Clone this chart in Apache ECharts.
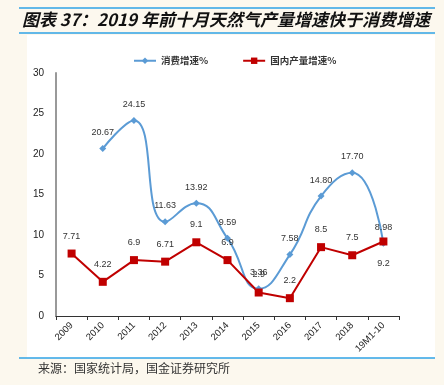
<!DOCTYPE html>
<html><head><meta charset="utf-8">
<script src="https://cdn.jsdelivr.net/npm/echarts@6/dist/echarts.min.js"></script>
<style>html,body{margin:0;padding:0;background:#fcf8ee;}#c{width:444px;height:385px;}</style>
</head><body><div id="c"></div>
<script>
const categories = ['2009','2010','2011','2012','2013','2014','2015','2016','2017','2018','19M1-10'];
const consumption = [null, 20.67, 24.15, 11.63, 13.92, 9.59, 3.36, 7.58, 14.80, 17.70, 8.98];
const consumptionLabels = ['', '20.67', '24.15', '11.63', '13.92', '9.59', '3.36', '7.58', '14.80', '17.70', '8.98'];
const production = [7.71, 4.22, 6.9, 6.71, 9.1, 6.9, 2.9, 2.2, 8.5, 7.5, 9.2];
const yTicks = [0, 5, 10, 15, 20, 25, 30];
const titleText = '图表 37：2019 年前十月天然气产量增速快于消费增速';
const sourceText = '来源：国家统计局，国金证券研究所';
const seriesNames = ['消费增速%', '国内产量增速%'];

const chart = echarts.init(document.getElementById('c'));
chart.setOption({
  backgroundColor: '#fcf8ee',
  animation: false,
  graphic: [
    {type:'rect', shape:{x:27,y:35,width:408,height:323}, style:{fill:'#ffffff'}, z:-10},
    {type:'line', shape:{x1:19,y1:8,x2:435,y2:8}, style:{stroke:'#2fa3e6',lineWidth:1.5}},
    {type:'line', shape:{x1:19,y1:33,x2:435,y2:33}, style:{stroke:'#2fa3e6',lineWidth:1.5}},
    {type:'line', shape:{x1:19,y1:358,x2:435,y2:358}, style:{stroke:'#2fa3e6',lineWidth:1.5}},
    {type:'text', left:22, top:11, style:{text:titleText, font:'italic bold 17px "Noto Sans CJK SC"', fill:'#111'}},
    {type:'text', left:38, top:362, style:{text:sourceText, font:'12px "Noto Sans CJK SC"', fill:'#333'}}
  ],
  legend: {
    top: 51, left: 128, itemGap: 34, itemWidth: 22, itemHeight: 8,
    textStyle: {fontSize: 9.5, fontWeight:'bold', color:'#333', fontFamily:'Noto Sans CJK SC'},
    data: seriesNames
  },
  grid: {left: 56, right: 45, top: 73, bottom: 69},
  xAxis: {
    type: 'category', data: categories, boundaryGap: true,
    axisLine: {lineStyle: {color:'#333', width:1}},
    axisTick: {show:true, alignWithLabel:false, length:4, lineStyle:{color:'#333'}},
    axisLabel: {rotate: 45, fontSize: 9.5, color:'#222', interval:0, margin:8, fontFamily:'Liberation Sans'}
  },
  yAxis: {
    type: 'value', min: 0, max: 30, interval: 5,
    splitLine: {show:false},
    axisLine: {show:true, lineStyle:{color:'#999', width:2}},
    axisTick: {show:false},
    axisLabel: {fontSize: 10, color:'#222', margin: 12, fontFamily:'Liberation Sans'}
  },
  series: [
    {
      name: seriesNames[0], type: 'line', data: consumption, smooth: 0.5,
      symbol: 'diamond', symbolSize: 7, connectNulls: false,
      lineStyle: {color:'#5b9bd5', width: 2}, itemStyle: {color:'#5b9bd5'},
      label: {show:true, position:'top', fontSize: 9, color:'#333', distance: 8,
        formatter: p => consumptionLabels[p.dataIndex]}
    },
    {
      name: seriesNames[1], type: 'line',
      data: production.map((v,i)=> i===production.length-1 ? {value:v, label:{position:'bottom', distance:14}} : v),
      symbol: 'rect', symbolSize: 8,
      lineStyle: {color:'#c00000', width: 2}, itemStyle: {color:'#c00000'},
      label: {show:true, fontSize: 9, color:'#333', distance: 9, position: 'top'}
    }
  ]
});
</script></body></html>
